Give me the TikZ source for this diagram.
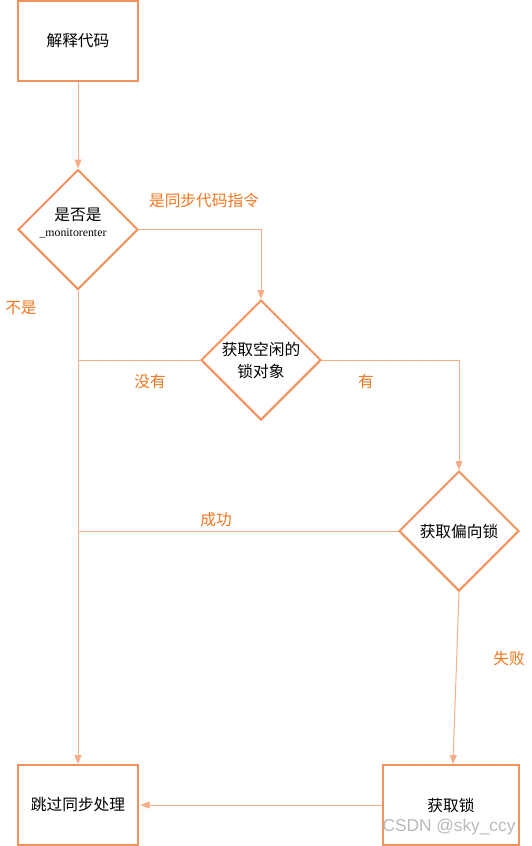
\documentclass[tikz,border=0pt]{standalone}
\usepackage{fontspec}
\setmainfont{Noto Sans CJK SC}
\newfontfamily\serifen{Liberation Serif}
\newfontfamily\wmfont{Liberation Sans}
\usetikzlibrary{shapes.geometric,arrows.meta}
\definecolor{boxor}{HTML}{F4925E}
\definecolor{lineor}{HTML}{F7AE88}
\definecolor{labor}{HTML}{F5761E}
\begin{document}
\begin{tikzpicture}[x=1pt,y=-1pt,
  every node/.style={font=\fontsize{15.7}{19}\selectfont},
  procbox/.style={draw=boxor,line width=2pt,rectangle,minimum width=120pt,minimum height=80pt,inner sep=0pt,align=center},
  decide/.style={draw=boxor,line width=2pt,diamond,minimum width=120pt,minimum height=120pt,inner sep=0pt,align=center},
  conn/.style={draw=lineor,line width=1pt},
  arr/.style={conn,-{Triangle[length=9pt,width=7pt]}},
  lab/.style={text=labor,inner sep=0pt}]
\useasboundingbox (0,0) rectangle (531,846);

\node[procbox] (b1) at (78,40.5) {解释代码};
\node[decide] (d1) at (78,229.5) {};
\node[inner sep=0pt] (d1t) at (78,215) {是否是};
\node[inner sep=0pt,font=\serifen\fontsize{11.8}{13}\selectfont] (d1s) at (73,233) {\_monitorenter};
\node[decide] (d2) at (261,360) {获取空闲的\\[3pt]锁对象};
\node[decide] (d3) at (459,531) {获取偏向锁};
\node[procbox] (skip) at (78,805) {跳过同步处理};
\node[procbox,minimum width=136pt] (lock) at (451,805) {获取锁};

\node[lab] (l1) at (204,201) {是同步代码指令};
\node[lab] (l2) at (21,308) {不是};
\node[lab] (l3) at (150,382) {没有};
\node[lab] (l4) at (366,382) {有};
\node[lab] (l5) at (216,520) {成功};
\node[lab] (l6) at (509,659) {失败};

\draw[arr] (b1.south) -- (d1.north);
\draw[arr] (d1.east) -| (d2.north);
\draw[arr] (d1.south) -- (skip.north);
\draw[conn] (d2.west) -- (d2.west -| d1.south);
\draw[arr] (d2.east) -| (d3.north);
\draw[conn] (d3.west) -- (d3.west -| d1.south);
\draw[arr] (d3.south) -- ([xshift=2pt]lock.north);
\draw[arr] (lock.west) -- ([xshift=1.5pt]skip.east);

\node[text=gray!55,inner sep=0pt,font=\wmfont\fontsize{17.3}{20}\selectfont] (wm) at (449,827) {CSDN @sky\_ccy};
\end{tikzpicture}
\end{document}
